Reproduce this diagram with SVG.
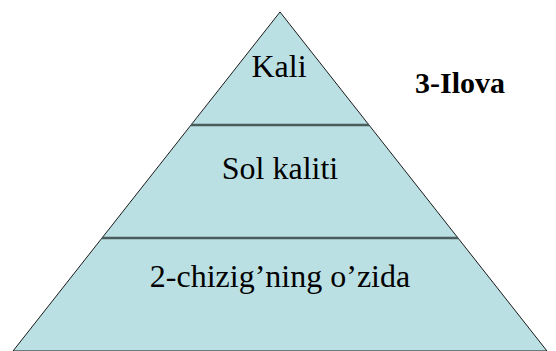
<svg xmlns="http://www.w3.org/2000/svg" width="556" height="351" viewBox="0 0 556 351">
<style>
.t{font-family:"Liberation Serif","Times New Roman",serif;font-size:32px;fill:#000;text-anchor:middle}
.b{font-family:"Liberation Serif","Times New Roman",serif;font-size:30px;font-weight:bold;fill:#000;text-anchor:middle}
.div{stroke:#4a5c5c;stroke-width:2.5;fill:none}
</style>
<rect width="556" height="351" fill="#ffffff"/>
<g id="pyramid">
<polygon points="280,12 547,351 13,351" fill="#bbe0e4" stroke="#1a1a1a" stroke-width="1"/>
</g>
<g id="connectors">
<line class="div" x1="191" y1="125" x2="369" y2="125"/>
<line class="div" x1="102" y1="238" x2="458" y2="238"/>
</g>
<g id="node-kali"><text class="t" x="279" y="77">Kali</text></g>
<g id="node-sol"><text class="t" x="280" y="179">Sol kaliti</text></g>
<g id="node-chiziq"><text class="t" x="280" y="287">2-chizig’ning o’zida</text></g>
<g id="label-ilova"><text class="b" x="460" y="93">3-Ilova</text></g>
</svg>
